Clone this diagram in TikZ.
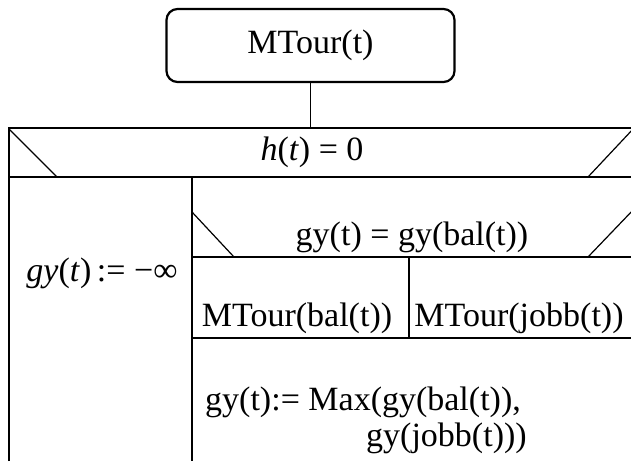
\documentclass[tikz,border=0pt]{standalone}
\usepackage{fontspec}
\setmainfont{Liberation Serif}
\begin{document}
\begin{tikzpicture}[x=1pt,y=-1pt,
  frame/.style={line width=2.2pt},
  slant/.style={line width=1.2pt},
  lbl/.style={inner sep=0pt, font=\fontsize{34}{40}\selectfont},
]
\useasboundingbox (0,0) rectangle (631,461);
\clip (0,0) rectangle (631,461);

% procedure head
\node[draw, line width=2.2pt, rounded corners=11pt,
      minimum width=288pt, minimum height=73pt, lbl] (head) at (310.5,45.5) {MTour(t)};
\coordinate (top) at (310.5,128);
\draw[line width=1.8pt] (head.south) -- (top);

% outer selection: h(t) = 0
\draw[frame] (9,461) -- (9,128) -- (645,128);
\draw[frame] (9,177) -- (645,177);
\draw[slant] (9,129) -- (57,177);
\draw[slant] (588,177) -- (634,128);
\node[lbl] (cond1) at (312,152) {\textit{h}(\textit{t}) = 0};

% then-branch
\draw[frame] (192,177) -- (192,461);
\node[lbl] (init) at (102,273) {\textit{gy}(\textit{t})\,:= −∞};

% inner selection
\draw[frame] (192,257) -- (645,257);
\draw[slant] (192,212) -- (234,257);
\draw[slant] (588,257) -- (634,209);
\node[lbl] (cond2) at (412,237) {gy(t) = gy(bal(t))};

% recursive calls
\draw[frame] (409,257) -- (409,338);
\draw[frame] (192,338) -- (645,338);
\node[lbl] (callL) at (297,318) {MTour(bal(t))};
\node[lbl] (callR) at (519,318) {MTour(jobb(t))};

% maximum
\node[lbl, anchor=west] (max1) at (205,402) {gy(t):= Max(gy(bal(t)),};
\node[lbl, anchor=west] (max2) at (366,438) {gy(jobb(t)))};
\end{tikzpicture}
\end{document}
